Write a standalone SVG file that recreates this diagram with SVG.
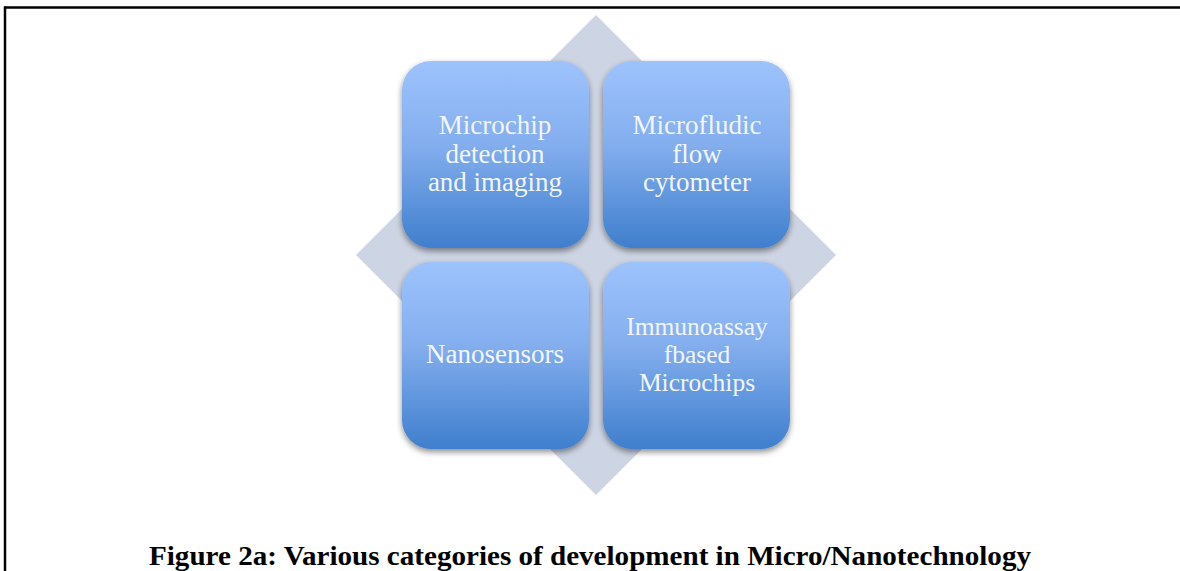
<svg xmlns="http://www.w3.org/2000/svg" width="1180" height="571" viewBox="0 0 1180 571">
<defs>
<linearGradient id="bg" x1="0" y1="0" x2="0" y2="1">
<stop offset="0" stop-color="#9dc3fc"/>
<stop offset="0.45" stop-color="#83aeee"/>
<stop offset="1" stop-color="#3f7fcd"/>
</linearGradient>
<filter id="sh" x="-20%" y="-20%" width="140%" height="140%">
<feGaussianBlur in="SourceAlpha" stdDeviation="3"/>
<feOffset dx="0" dy="3" result="b"/>
<feComponentTransfer><feFuncA type="linear" slope="0.45"/></feComponentTransfer>
<feMerge><feMergeNode/><feMergeNode in="SourceGraphic"/></feMerge>
</filter>
</defs>
<style>
.box{fill:url(#bg);filter:url(#sh)}
.t{font-family:"Liberation Serif","DejaVu Serif",serif;font-size:27px;fill:#f3f6fc;text-anchor:middle}
.s{font-size:25.5px}
.cap{font-family:"Liberation Serif","Times New Roman",serif;font-size:28px;font-weight:bold;fill:#000}
</style>
<rect width="1180" height="571" fill="#fff"/>
<g id="frame" stroke="#000" stroke-width="2.5" fill="none">
<line x1="4" y1="7.5" x2="1180" y2="7.5"/>
<line x1="5" y1="6.5" x2="5" y2="571"/>
</g>
<g id="diamond"><polygon points="596,15 836,255 596,495 356,255" fill="#cdd4e3"/></g>
<g id="connectors"></g>
<g id="n1"><rect class="box" x="402" y="61" width="187" height="187" rx="29"/>
<text class="t"><tspan x="495" y="134">Microchip</tspan><tspan x="495" y="163">detection</tspan><tspan x="495" y="191">and imaging</tspan></text></g>
<g id="n2"><rect class="box" x="603" y="61" width="187" height="187" rx="29"/>
<text class="t"><tspan x="697" y="134">Microfludic</tspan><tspan x="697" y="163">flow</tspan><tspan x="697" y="191">cytometer</tspan></text></g>
<g id="n3"><rect class="box" x="402" y="262" width="187" height="187" rx="29"/>
<text class="t" x="495" y="363">Nanosensors</text></g>
<g id="n4"><rect class="box" x="603" y="262" width="187" height="187" rx="29"/>
<text class="t s"><tspan x="697" y="335">Immunoassay</tspan><tspan x="697" y="363">fbased</tspan><tspan x="697" y="391">Microchips</tspan></text></g>
<g id="caption"><text class="cap" x="149" y="565" textLength="882" lengthAdjust="spacingAndGlyphs">Figure 2a: Various categories of development in Micro/Nanotechnology</text></g>
</svg>
